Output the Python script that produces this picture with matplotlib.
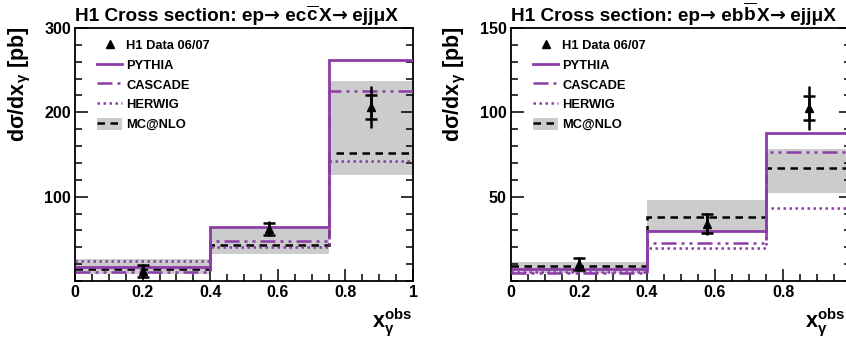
import numpy as np
import matplotlib
matplotlib.use("Agg")
import matplotlib.pyplot as plt
from matplotlib.lines import Line2D
from matplotlib.patches import Patch
from matplotlib.ticker import MultipleLocator

# ── Data ──────────────────────────────────────────────────────────
edges = [0.0, 0.4, 0.75, 1.0]
x_data = [0.2, 0.575, 0.875]

# charm panel
c_data = [12, 62, 206]
c_stat = [7, 7, 14]
c_tot = [8, 9, 25]
c_pythia = [17, 63.5, 262]
c_cascade = [11, 47, 225]
c_herwig = [24, 40, 142]
c_mcnlo = [14, 43, 152]
c_band_lo = [8, 32, 126]
c_band_hi = [26, 61.5, 237.5]

# beauty panel
b_data = [10, 34, 102.5]
b_stat = [3.5, 5.5, 7]
b_tot = [4, 6.5, 13]
b_pythia = [7, 29.6, 88]
b_cascade = [4.9, 22.7, 76.5]
b_herwig = [5.3, 19.3, 43.4]
b_mcnlo = [9, 38, 66.7]
b_band_lo = [4.5, 29.6, 52]
b_band_hi = [11.4, 48, 78]

legend_labels = ["H1 Data 06/07", "PYTHIA", "CASCADE", "HERWIG", "MC@NLO"]

# ── Style ──────────────────────────────────────────────────────────
plt.rcParams["font.family"] = ["Liberation Sans", "DejaVu Sans"]
plt.rcParams["font.weight"] = "bold"
plt.rcParams["mathtext.fontset"] = "custom"
plt.rcParams["mathtext.rm"] = "Liberation Sans:bold"
plt.rcParams["mathtext.bf"] = "Liberation Sans:bold"
plt.rcParams["mathtext.it"] = "Liberation Sans:bold"
plt.rcParams["mathtext.sf"] = "Liberation Sans:bold"

PURPLE = "#8B3CA6"
GREY = "#CCCCCC"
ls_cascade = (0, (6, 2, 1.2, 2, 1.2, 2))
ls_herwig = (0, (1, 1.4))
ls_mcnlo = (0, (3, 2.2))

fig = plt.figure(figsize=(8.46, 3.39), dpi=100)
W, H = 846.0, 339.0
renderer = fig.canvas.get_renderer()


def title_pieces(x_px, y_px, pieces, size):
    # write the title piece by piece so the arrows can come from DejaVu Sans
    x = x_px
    for s, fam in pieces:
        t = fig.text(x / W, 1 - y_px / H, s, fontsize=size, fontweight="bold",
                     family=fam, ha="left", va="baseline")
        bb = t.get_window_extent(renderer)
        x += bb.width


def panel(left_px, right_px, ymax, major, minor, data, stat, tot,
          pythia, cascade, herwig, mcnlo, band_lo, band_hi, quark, ylab_x,
          leg_px, show_last_x):
    ax = fig.add_axes([left_px / W, (H - 281) / H, (right_px - left_px) / W, 253 / H])
    ax.stairs(band_hi, edges, baseline=band_lo, fill=True, color=GREY, lw=0, zorder=1)
    ax.stairs(mcnlo, edges, baseline=None, color="black", lw=1.8, ls=ls_mcnlo, zorder=2)
    ax.stairs(herwig, edges, baseline=None, color=PURPLE, lw=1.8, ls=ls_herwig, zorder=3)
    ax.stairs(cascade, edges, baseline=None, color=PURPLE, lw=1.8, ls=ls_cascade, zorder=3)
    ax.stairs(pythia, edges, baseline=None, color=PURPLE, lw=2.0, zorder=4)
    ax.errorbar(x_data, data, yerr=tot, fmt="none", ecolor="black", elinewidth=1.8,
                capsize=0, zorder=5)
    ax.errorbar(x_data, data, yerr=stat, fmt="^", color="black", ms=6, elinewidth=1.8,
                capsize=4, capthick=1.8, zorder=6)

    ax.set_xlim(0, 1)
    ax.set_ylim(0, ymax)
    ax.xaxis.set_minor_locator(MultipleLocator(0.05))
    ax.yaxis.set_minor_locator(MultipleLocator(minor))
    xt = [0, 0.2, 0.4, 0.6, 0.8, 1]
    xl = ["0", "0.2", "0.4", "0.6", "0.8", "1" if show_last_x else ""]
    ax.set_xticks(xt)
    ax.set_xticklabels(xl)
    yt = np.arange(major, ymax + 1, major)
    ax.set_yticks(yt)
    ax.set_yticklabels([str(int(v)) for v in yt])
    ax.tick_params(which="both", direction="in", top=False, right=True,
                   labelsize=11.5, width=1.1)
    ax.tick_params(which="major", length=9)
    ax.tick_params(which="minor", length=5)
    ax.tick_params(axis="x", pad=3)
    ax.tick_params(axis="y", pad=3)
    for s in ax.spines.values():
        s.set_linewidth(1.3)

    handles = [
        Line2D([], [], marker="^", color="black", ls="none", ms=6),
        Line2D([], [], color=PURPLE, lw=2.0),
        Line2D([], [], color=PURPLE, lw=1.8, ls=ls_cascade),
        Line2D([], [], color=PURPLE, lw=1.8, ls=ls_herwig),
        (Patch(facecolor=GREY, lw=0), Line2D([], [], color="black", lw=1.8, ls=ls_mcnlo)),
    ]
    ax.legend(handles, legend_labels, loc="upper left",
              bbox_to_anchor=((leg_px - left_px) / (right_px - left_px), 0.957),
              frameon=False, fontsize=9.3, handlelength=1.95, handletextpad=0.3,
              labelspacing=0.47, borderpad=0.0, borderaxespad=0.0, numpoints=1,
              handleheight=1.1)

    lib = ["Liberation Sans", "DejaVu Sans"]
    dv = ["DejaVu Sans"]
    title_pieces(left_px, 21, [
        ("H1 Cross section: ep", lib), ("\u2192", dv), (" e" + quark, lib),
        (r"$\overline{\mathrm{" + quark + "}}$", lib), ("X", lib), ("\u2192", dv),
        (" ejjμX", lib)], 13.7)
    fig.text(ylab_x / W, 1 - 27 / H, r"d$\sigma$/dx$_{\gamma}$ [pb]", fontsize=15.5,
             rotation=90, ha="center", va="top", fontweight="bold")
    fig.text((min(right_px, 846) - 1) / W, 1 - 328 / H,
             r"$\mathbf{x}_{\gamma}^{\mathbf{obs}}$",
             fontsize=15.5, ha="right", va="baseline")
    return ax


ax1 = panel(75, 413, 300, 100, 20, c_data, c_stat, c_tot, c_pythia, c_cascade,
            c_herwig, c_mcnlo, c_band_lo, c_band_hi, "c", 20, 97, True)
ax2 = panel(511, 851, 150, 50, 10, b_data, b_stat, b_tot, b_pythia, b_cascade,
            b_herwig, b_mcnlo, b_band_lo, b_band_hi, "b", 455, 533, False)

fig.savefig("out.png", dpi=100)
